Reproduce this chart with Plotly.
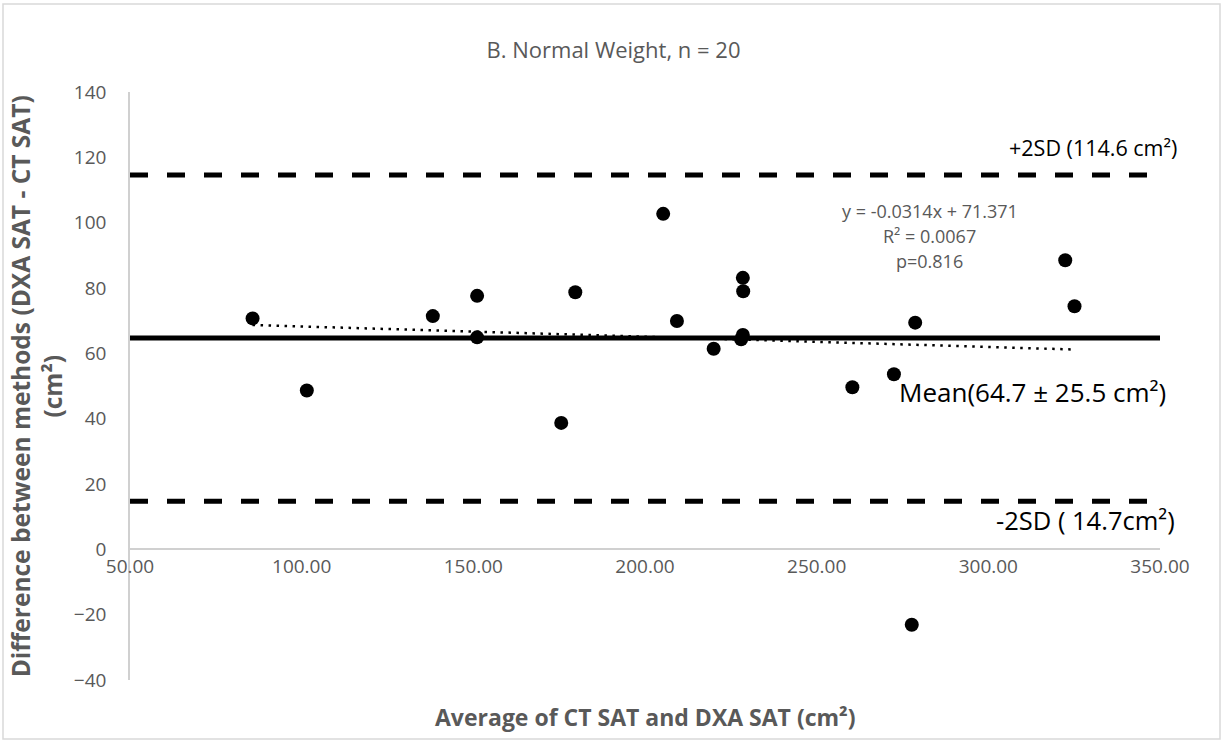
import plotly.graph_objects as go

# ---- data ----
avg_x = [85.7, 101.5, 138.2, 151.1, 151.1, 179.7, 175.6, 205.3, 209.3, 220.0,
         228.5, 228.6, 228.0, 228.5, 278.7, 260.4, 272.5, 322.4, 325.1, 277.7]
diff_y = [70.7, 48.6, 71.4, 77.6, 64.9, 78.7, 38.7, 102.7, 69.9, 61.4,
          83.1, 79.0, 64.3, 65.6, 69.4, 49.6, 53.6, 88.5, 74.4, -23.1]

mean_diff = 64.7
upper_sd = 114.6
lower_sd = 14.7
trend_slope = -0.0314
trend_intercept = 71.371

x_range = [50, 350]
y_range = [-40, 140]
x_ticks = [50, 100, 150, 200, 250, 300, 350]
y_ticks = [-40, -20, 0, 20, 40, 60, 80, 100, 120, 140]

FONT = "'Open Sans', Carlito, Lato, sans-serif"
GRAY = "#595959"

fig = go.Figure()

# limit lines
for lvl in (upper_sd, lower_sd):
    fig.add_trace(go.Scatter(x=x_range, y=[lvl, lvl], mode="lines",
                             line=dict(color="black", width=5, dash="18px,19px"),
                             hoverinfo="skip", showlegend=False))
fig.add_trace(go.Scatter(x=x_range, y=[mean_diff, mean_diff], mode="lines",
                         line=dict(color="black", width=5),
                         hoverinfo="skip", showlegend=False))

# trend line (from the reported regression equation)
tx = [min(avg_x), max(avg_x)]
ty = [trend_slope * v + trend_intercept for v in tx]
fig.add_trace(go.Scatter(x=tx, y=ty, mode="lines",
                         line=dict(color="black", width=2.5, dash="2.5px,5.5px"),
                         hoverinfo="skip", showlegend=False))

# points
fig.add_trace(go.Scatter(x=avg_x, y=diff_y, mode="markers",
                         marker=dict(color="black", size=14),
                         showlegend=False))

annotations = [
    dict(x=330.5, y=122.9, text="+2SD (114.6 cm²)", showarrow=False,
         font=dict(size=21.5, color="black", family=FONT), xanchor="center", yanchor="middle"),
    dict(x=313, y=48.2, text="Mean(64.7 ± 25.5 cm²)", showarrow=False,
         font=dict(size=26, color="black", family=FONT), xanchor="center", yanchor="middle"),
    dict(x=328.2, y=9.0, text="-2SD ( 14.7cm²)", showarrow=False,
         font=dict(size=25.5, color="black", family=FONT), xanchor="center", yanchor="middle"),
    dict(x=283, y=103.55, text="y = -0.0314x + 71.371", showarrow=False,
         font=dict(size=18, color=GRAY, family=FONT), xanchor="center", yanchor="middle"),
    dict(x=283, y=95.9, text="R² = 0.0067", showarrow=False,
         font=dict(size=18, color=GRAY, family=FONT), xanchor="center", yanchor="middle"),
    dict(x=283, y=88.25, text="p=0.816", showarrow=False,
         font=dict(size=18, color=GRAY, family=FONT), xanchor="center", yanchor="middle"),
    dict(xref="paper", yref="paper", x=0.5, y=-0.063,
         text="<b>Average of CT SAT and DXA SAT (cm²)</b>", showarrow=False,
         font=dict(size=23, color=GRAY, family=FONT), xanchor="center", yanchor="middle"),
    dict(xref="paper", yref="paper", x=-0.091, y=0.5, textangle=-90,
         text="<b>Difference between methods (DXA SAT - CT SAT)<br>(cm²)</b>", showarrow=False,
         font=dict(size=24.5, color=GRAY, family=FONT), xanchor="center", yanchor="middle"),
]

fig.update_layout(
    width=1227, height=743,
    margin=dict(l=130, r=67, t=92, b=63),
    paper_bgcolor="white", plot_bgcolor="white",
    font=dict(family=FONT, color=GRAY),
    title=dict(text="B. Normal Weight, n = 20", x=0.5, xanchor="center",
               y=1 - 50 / 743, yanchor="middle",
               font=dict(size=22, color=GRAY, family=FONT)),
    xaxis=dict(range=x_range, tickvals=x_ticks,
               ticktext=[f"{v:.2f}" for v in x_ticks],
               showgrid=False, zeroline=False, showline=True, automargin=False,
               linecolor="#d0d0d0", linewidth=1.5,
               anchor="free", position=(0 - y_range[0]) / (y_range[1] - y_range[0]),
               ticks="", tickfont=dict(size=19, color=GRAY, family=FONT)),
    yaxis=dict(range=y_range, tickvals=y_ticks, showgrid=False, zeroline=False,
               showline=True, automargin=False, linecolor="#d0d0d0", linewidth=1.5,
               ticks="", ticklabelstandoff=18,
               tickfont=dict(size=19, color=GRAY, family=FONT)),
    annotations=annotations,
    shapes=[dict(type="rect", xref="paper", yref="paper",
                 x0=(3 - 130) / 1030, x1=(1220 - 130) / 1030,
                 y0=(680 - 739) / 588, y1=(680 - 4) / 588,
                 line=dict(color="#d9d9d9", width=1.5), fillcolor="rgba(0,0,0,0)",
                 layer="below")],
)

fig.write_html("out.html", config={"displayModeBar": False},
               post_script="document.body.style.margin='0';")
